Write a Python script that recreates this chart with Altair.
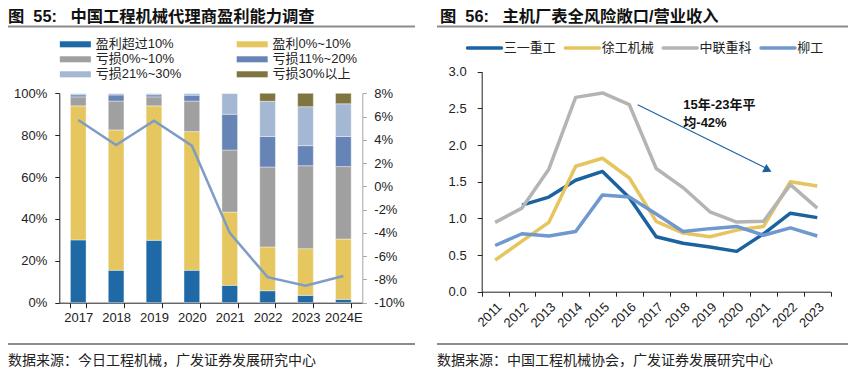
import altair as alt
import pandas as pd

# ---------------- data: left panel (图55) ----------------
years_left = ["2017", "2018", "2019", "2020", "2021", "2022", "2023", "2024E"]
categories = ["盈利超过10%", "盈利0%~10%", "亏损0%~10%", "亏损11%~20%", "亏损21%~30%", "亏损30%以上"]
profit_over10 = [30.0, 15.5, 29.8, 15.5, 8.3, 5.7, 3.5, 1.6]
profit_0_10 = [64.0, 67.0, 64.2, 66.2, 35.0, 20.9, 22.3, 28.8]
loss_0_10 = [4.3, 13.8, 4.3, 14.6, 29.6, 38.2, 39.6, 34.6]
loss_11_20 = [1.0, 2.9, 1.0, 2.8, 17.1, 14.6, 9.6, 14.4]
loss_21_30 = [0.7, 0.8, 0.7, 0.9, 10.0, 16.8, 18.6, 15.6]
loss_over30 = [0.0, 0.0, 0.0, 0.0, 0.0, 3.8, 6.4, 5.0]
margin_line = [5.7, 3.55, 5.65, 3.5, -4.0, -7.8, -8.55, -7.7]
left_ticks = [0, 20, 40, 60, 80, 100]
right_ticks = [-10, -8, -6, -4, -2, 0, 2, 4, 6, 8]

# ---------------- data: right panel (图56) ----------------
years_right = ["2011", "2012", "2013", "2014", "2015", "2016", "2017",
               "2018", "2019", "2020", "2021", "2022", "2023"]
companies = ["三一重工", "徐工机械", "中联重科", "柳工"]
sany = [None, 1.18, 1.29, 1.52, 1.64, 1.28, 0.75, 0.66, 0.61, 0.55, 0.79, 1.07, 1.01]
xcmg = [0.43, 0.69, 0.945, 1.71, 1.82, 1.55, 0.96, 0.80, 0.75, 0.84, 0.89, 1.50, 1.44]
zoomlion = [0.945, 1.14, 1.67, 2.65, 2.71, 2.55, 1.68, 1.42, 1.09, 0.95, 0.96, 1.46, 1.14]
liugong = [0.63, 0.79, 0.76, 0.82, 1.32, 1.29, 1.06, 0.82, 0.86, 0.89, 0.77, 0.87, 0.76]
ratio_ticks = [0.0, 0.5, 1.0, 1.5, 2.0, 2.5, 3.0]
ann_lines = ["15年-23年平", "均-42%"]

title_left = "图\u00a0\u00a055:\u00a0\u00a0\u00a0中国工程机械代理商盈利能力调查"
title_right = "图\u00a0\u00a056:\u00a0\u00a0\u00a0主机厂表全风险敞口/营业收入"
source_left = "数据来源：今日工程机械，广发证券发展研究中心"
source_right = "数据来源：中国工程机械协会，广发证券发展研究中心"

# ---------------- styling / layout ----------------
W, H = 849, 359
LX0, LX1 = 51.3, 354.3
LY0, LY1 = 294.7, 85.3
RX0, RX1 = 473.7, 822.7
RY0, RY1 = 283.7, 63.7

NUM = "Liberation Sans"
MIX = "Liberation Sans, Noto Sans CJK SC"
CJK = "Noto Sans CJK SC"
bar_colors = ["#1F69A6", "#E6C65F", "#A0A0A0", "#6684B6", "#A4B8D3", "#7F7541"]
left_line_color = "#7F9CC7"
right_colors = ["#1B63A0", "#E6C45E", "#B4B4B4", "#6F98CF"]
rule_color = "#8C8C8C"
text_color = "#222222"

# ---------------- tables ----------------
series_left = [profit_over10, profit_0_10, loss_0_10, loss_11_20, loss_21_30, loss_over30]
bar_rows = []
for i, yr in enumerate(years_left):
    for k, cat in enumerate(categories):
        bar_rows.append({"year": yr, "cat": cat, "k": k, "value": series_left[k][i]})
bars_df = pd.DataFrame(bar_rows)
line_df = pd.DataFrame({"year": years_left, "margin": margin_line})

series_right = [sany, xcmg, zoomlion, liugong]
r_rows = []
for c, vals in zip(companies, series_right):
    for yr, v in zip(years_right, vals):
        if v is not None:
            r_rows.append({"year": yr, "company": c, "value": v})
right_df = pd.DataFrame(r_rows)

axis_common = dict(title=None, grid=False, labelFont=NUM, labelFontSize=13,
                   labelColor=text_color, domainColor="#222222", tickColor="#222222",
                   domainWidth=1, tickWidth=1)

x_left_scale = alt.Scale(domain=years_left, range=[LX0, LX1], paddingInner=0.586, paddingOuter=0.293)
bar_color_scale = alt.Scale(domain=categories, range=bar_colors)
line_color_scale = alt.Scale(domain=companies, range=right_colors)

bars = alt.Chart(bars_df).mark_bar(stroke="white", strokeWidth=0.4).encode(
    x=alt.X("year:N", sort=years_left, scale=x_left_scale,
            axis=alt.Axis(orient="bottom", offset=LY0 - H, tickBand="extent", tickSize=5,
                          labelPadding=4, labelAngle=0, **axis_common)),
    y=alt.Y("value:Q", stack="zero",
            scale=alt.Scale(domain=[0, 100], range=[LY0, LY1], nice=False),
            axis=alt.Axis(orient="left", offset=-LX0, values=left_ticks, tickSize=4.5,
                          labelPadding=8, labelExpr="datum.value + '%'", **axis_common)),
    color=alt.Color("cat:N", scale=bar_color_scale, legend=None),
    order=alt.Order("k:Q", sort="ascending"),
)

left_axis_r = dict(axis_common)
left_axis_r.update(domainColor="#A6A6A6", tickColor="#A6A6A6")
line_left = alt.Chart(line_df).mark_line(color=left_line_color, strokeWidth=2.5).encode(
    x=alt.X("year:N", sort=years_left, scale=x_left_scale, bandPosition=0.5, axis=None),
    y=alt.Y("margin:Q", scale=alt.Scale(domain=[-10, 8], range=[LY0, LY1], nice=False, zero=False),
            axis=alt.Axis(orient="right", offset=LX1 - W, values=right_ticks, tickSize=4,
                          labelPadding=7.5, labelExpr="datum.value + '%'", **left_axis_r)),
)

lines_right = alt.Chart(right_df).mark_line(strokeWidth=3.5, strokeJoin="round").encode(
    x=alt.X("year:N", sort=years_right, bandPosition=0.5,
            scale=alt.Scale(type="band", domain=years_right, range=[RX0, RX1], paddingInner=0, paddingOuter=0),
            axis=alt.Axis(orient="bottom", offset=RY0 - H, tickBand="extent", tickSize=4.5,
                          labelAngle=-45, labelPadding=4, **axis_common)),
    y=alt.Y("value:Q", scale=alt.Scale(domain=[0, 3], range=[RY0, RY1], nice=False),
            axis=alt.Axis(orient="left", offset=-RX0, values=ratio_ticks, format=".1f", tickSize=4.5,
                          labelPadding=11, **axis_common)),
    color=alt.Color("company:N", scale=line_color_scale, legend=None),
)

# ---------------- legends (built from the category lists) ----------------
leg_left_df = pd.DataFrame({"cat": categories,
                            "col": [k % 2 for k in range(len(categories))],
                            "row": [k // 2 for k in range(len(categories))]})
leg_lx = alt.Scale(domain=[0, 1], range=[67.35, 244.2], nice=False, zero=False)
leg_ly = alt.Scale(domain=[0, 2], range=[36.3, 66.3], nice=False, zero=False)
leg_left_sym = alt.Chart(leg_left_df).mark_point(
    shape="M-1,-0.195L1,-0.195L1,0.195L-1,0.195Z", size=961, filled=True, opacity=1, strokeWidth=0
).encode(
    x=alt.X("col:Q", scale=leg_lx, axis=None), y=alt.Y("row:Q", scale=leg_ly, axis=None),
    color=alt.Color("cat:N", scale=bar_color_scale, legend=None))
leg_left_txt = alt.Chart(leg_left_df).mark_text(
    align="left", baseline="middle", dx=20.3, font=MIX, fontSize=13, color=text_color
).encode(
    x=alt.X("col:Q", scale=leg_lx, axis=None), y=alt.Y("row:Q", scale=leg_ly, axis=None), text="cat:N")

leg_right_df = pd.DataFrame({"company": companies, "col": list(range(len(companies)))})
leg_rx = alt.Scale(domain=[0, 3], range=[476.5, 770.0], nice=False, zero=False)
leg_ry = alt.Scale(domain=[0, 1], range=[40, 40], nice=False, zero=False)
leg_right_sym = alt.Chart(leg_right_df).mark_point(
    shape="stroke", size=1156, filled=False, strokeWidth=3.5, opacity=1, strokeCap="round"
).encode(
    x=alt.X("col:Q", scale=leg_rx, axis=None), y=alt.Y("col:Q", scale=leg_ry, axis=None),
    color=alt.Color("company:N", scale=line_color_scale, legend=None))
leg_right_txt = alt.Chart(leg_right_df).mark_text(
    align="left", baseline="middle", dx=19.3, font=CJK, fontSize=13, color=text_color
).encode(
    x=alt.X("col:Q", scale=leg_rx, axis=None), y=alt.Y("col:Q", scale=leg_ry, axis=None),
    text="company:N")

# ---------------- annotation (band-unit coordinates of the right panel) ----------------
ann_x = alt.Scale(domain=[0, 13], range=[RX0, RX1], nice=False, zero=False)
ann_y = alt.Scale(domain=[0, 3], range=[RY0, RY1], nice=False, zero=False)
arrow_df = pd.DataFrame({"x": [5.81], "y": [2.55], "x2": [10.62], "y2": [1.68]})
head_df = pd.DataFrame({"x": [10.66], "y": [1.66]})
ann_df = pd.DataFrame({"x": [7.51, 7.51], "y": [2.546, 2.30], "t": ann_lines})

arrow = alt.Chart(arrow_df).mark_rule(color="#1B63A0", strokeWidth=1.2).encode(
    x=alt.X("x:Q", scale=ann_x, axis=None), y=alt.Y("y:Q", scale=ann_y, axis=None),
    x2="x2:Q", y2="y2:Q")
head = alt.Chart(head_df).mark_point(shape="triangle-right", filled=True, size=90, angle=27,
                                     color="#1B63A0", opacity=1).encode(
    x=alt.X("x:Q", scale=ann_x, axis=None), y=alt.Y("y:Q", scale=ann_y, axis=None))
ann_text = alt.Chart(ann_df).mark_text(align="left", baseline="middle", font=MIX, fontSize=13,
                                       fontWeight="bold", color="#111111").encode(
    x=alt.X("x:Q", scale=ann_x, axis=None), y=alt.Y("y:Q", scale=ann_y, axis=None), text="t:N")

one = pd.DataFrame({"a": [0]})


def text_layer(txt, x, y, size, weight="normal", color=text_color, font=MIX):
    return alt.Chart(pd.DataFrame({"t": [txt]})).mark_text(
        align="left", baseline="alphabetic", font=font, fontSize=size, fontWeight=weight,
        color=color).encode(x=alt.value(x), y=alt.value(y), text="t:N")


def hrule(x0, x1, y):
    return alt.Chart(one).mark_rule(color=rule_color, strokeWidth=2).encode(
        x=alt.value(x0), x2=alt.value(x1), y=alt.value(y))


decor = [
    text_layer(title_left, 0, 13.5, 16.3, "bold", "#111111"),
    text_layer(title_right, 432, 13.5, 16.3, "bold", "#111111"),
    hrule(0, 407, 18.5), hrule(429, 840, 18.5),
    hrule(0, 407, 336), hrule(429, 840, 336),
    text_layer(source_left, 0, 357, 14),
    text_layer(source_right, 429, 357, 14),
]

chart = alt.layer(bars, line_left, lines_right, leg_left_sym, leg_left_txt, leg_right_sym,
                  leg_right_txt, arrow, head, ann_text, *decor).resolve_scale(
    x="independent", y="independent", color="independent"
).properties(
    width=W, height=H, autosize=alt.AutoSizeParams(type="none"), padding=0
).configure_view(stroke=None)

chart.save("out.html", embed_options={"renderer": "svg", "actions": False})
